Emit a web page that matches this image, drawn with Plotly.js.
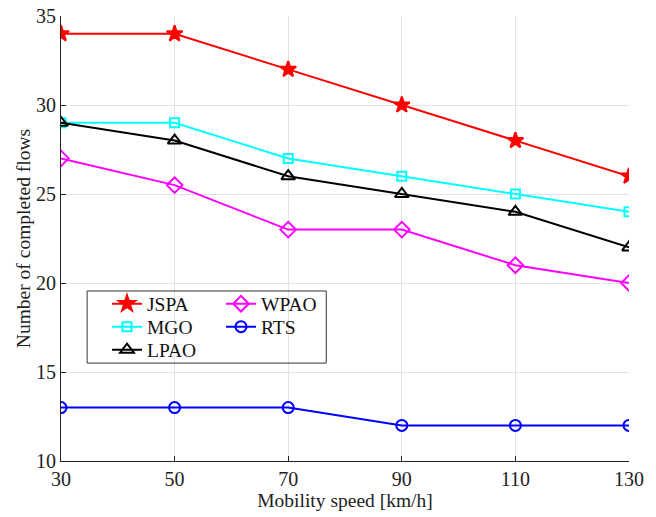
<!DOCTYPE html>
<html><head><meta charset="utf-8">
<script src="https://cdn.plot.ly/plotly-3.0.1.min.js"></script>
<style>body{margin:0;padding:0;background:#fff}#chart{width:656px;height:517px}</style>
</head><body><div id="chart"></div>
<script>
const speeds = [30, 50, 70, 90, 110, 130];
const jspa = [34, 34, 32, 30, 28, 26];
const mgo = [29, 29, 27, 26, 25, 24];
const lpao = [29, 28, 26, 25, 24, 22];
const wpao = [27, 25.5, 23, 23, 21, 20];
const rts = [13, 13, 13, 12, 12, 12];
const xTicks = [30, 50, 70, 90, 110, 130];
const yTicks = [10, 15, 20, 25, 30, 35];

function tr(name, y, color, symbol, size, legend) {
  return {x: speeds, y: y, name: name, type: 'scatter', mode: 'lines+markers',
    line: {color: color, width: 2},
    marker: {symbol: symbol, size: size, color: color, line: {color: color, width: 2}},
    legend: legend};
}
const data = [
  tr('JSPA', jspa, '#ff0000', 'star', 12, 'legend'),
  tr('MGO', mgo, '#00ffff', 'square-open', 9, 'legend2'),
  tr('LPAO', lpao, '#000000', 'triangle-up-open', 12, 'legend3'),
  tr('WPAO', wpao, '#ff00ff', 'diamond-open', 12, 'legend4'),
  tr('RTS', rts, '#0000ff', 'circle-open', 11, 'legend5')
];
const fam = 'Liberation Serif, Times New Roman, serif';
const tickFont = {family: fam, size: 20, color: '#222'};
const titleFont = {family: fam, size: 19.5, color: '#222'};
const legFont = {family: fam, size: 19.5, color: '#111'};
function leg(xp, yp) {
  return {x: xp, y: yp, xanchor: 'left', yanchor: 'middle', bgcolor: 'rgba(0,0,0,0)',
    font: legFont, borderwidth: 0};
}
// paper coords: plot left 61, width 568; top 16, height 445
const L1x = (107 - 61) / 568, L2x = (221 - 61) / 568;
const r1 = (461 - 304) / 445, r2 = (461 - 327) / 445, r3 = (461 - 350) / 445;
const layout = {
  width: 656, height: 517,
  margin: {l: 61, r: 27, t: 16, b: 56},
  paper_bgcolor: '#fff', plot_bgcolor: '#fff',
  font: tickFont,
  showlegend: true,
  xaxis: {range: [30, 130], tickvals: xTicks, ticktext: xTicks.map(String),
    showgrid: true, gridcolor: '#e3e3e3', gridwidth: 1, zeroline: false,
    showline: true, linecolor: '#222', linewidth: 1, ticks: 'inside', ticklen: 5, tickcolor: '#222',
    tickfont: tickFont, title: {text: 'Mobility speed [km/h]', font: titleFont, standoff: 4}},
  yaxis: {range: [10, 35], tickvals: yTicks, ticktext: yTicks.map(String),
    showgrid: true, gridcolor: '#e3e3e3', gridwidth: 1, zeroline: false,
    showline: true, linecolor: '#222', linewidth: 1, ticks: 'inside', ticklen: 5, tickcolor: '#222',
    tickfont: tickFont, title: {text: 'Number of completed flows', font: titleFont, standoff: 0}},
  legend: leg(L1x, r1),
  legend2: leg(L1x, r2),
  legend3: leg(L1x, r3),
  legend4: leg(L2x, r1),
  legend5: leg(L2x, r2),
  shapes: [{type: 'rect', xref: 'paper', yref: 'paper', x0: 0.046, x1: 0.467, y0: 0.22, y1: 0.382,
    line: {color: '#333', width: 1}, fillcolor: 'rgba(0,0,0,0)'}]
};
Plotly.newPlot('chart', data, layout, {displayModeBar: false, staticPlot: true});
</script></body></html>
